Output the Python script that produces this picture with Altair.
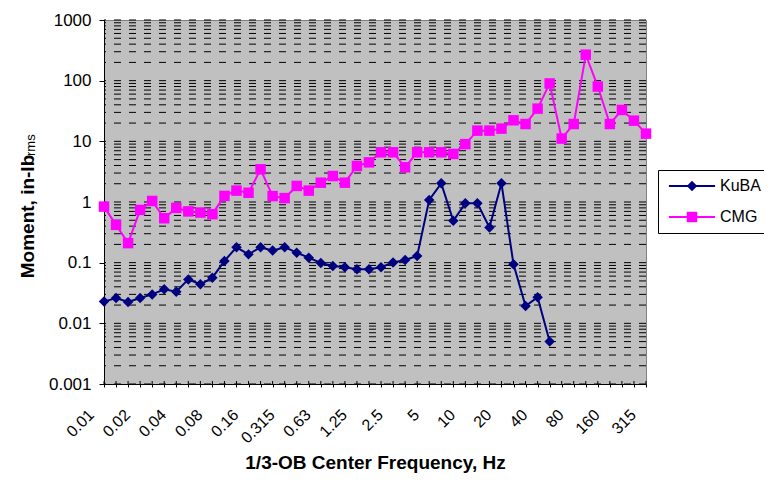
import altair as alt
import pandas as pd

freqs = ["0.01", "0.0125", "0.016", "0.02", "0.025", "0.0315", "0.04", "0.05", "0.063", "0.08",
         "0.1", "0.125", "0.16", "0.2", "0.25", "0.315", "0.4", "0.5", "0.63", "0.8",
         "1", "1.25", "1.6", "2", "2.5", "3.15", "4", "5", "6.3", "8",
         "10", "12.5", "16", "20", "25", "31.5", "40", "50", "63", "80",
         "100", "125", "160", "200", "250", "315"]
labeled = freqs[::3]

kuba = [0.0228, 0.0262, 0.0225, 0.0262, 0.030, 0.0364, 0.0333, 0.053, 0.044, 0.0566,
        0.107, 0.179, 0.137, 0.18, 0.158, 0.18, 0.146, 0.121, 0.099, 0.088,
        0.084, 0.078, 0.078, 0.084, 0.101, 0.111, 0.129, 1.08, 2.03, 0.49,
        0.95, 0.95, 0.38, 2.03, 0.094, 0.0193, 0.0269, 0.0050]
cmg = [0.84, 0.42, 0.21, 0.74, 1.04, 0.54, 0.80, 0.70, 0.67, 0.63,
       1.26, 1.54, 1.42, 3.46, 1.25, 1.16, 1.84, 1.54, 2.08, 2.68,
       2.08, 3.92, 4.5, 6.6, 6.6, 3.73, 6.6, 6.6, 6.6, 6.2,
       9.0, 15.0, 15.0, 16.2, 22.2, 19.3, 34.6, 90, 11.1, 19.3,
       268, 80, 19.3, 32.9, 21.9, 13.4]

series_names = ["KuBA", "CMG"]
series_colors = ["#000080", "#FF00FF"]
decades = [0.001, 0.01, 0.1, 1, 10, 100, 1000]
grid_vals = [m * 10.0 ** k for k in range(-3, 3) for m in range(1, 10)] + [1000]

rows = []
for f, v in zip(freqs, kuba):
    rows.append({"freq": f, "series": "KuBA", "series_b": "KuBA", "value": v})
for f, v in zip(freqs, cmg):
    rows.append({"freq": f, "series": "CMG", "series_b": "CMG", "value": v})
df = pd.DataFrame(rows)

W, H = 542, 364

lab_js = "[" + ",".join("'" + s + "'" for s in labeled) + "]"
xscale = alt.Scale(type="point", padding=0, domain=freqs)
xaxis = alt.Axis(
    labelExpr=f"indexof({lab_js}, datum.label) >= 0 ? datum.label : ''",
    labelAngle=315, labelAlign="right", labelBaseline="middle",
    labelOffset=-13, labelPadding=25, labelFontSize=16, labelColor="black",
    tickSize=3, tickColor="black", domainColor="black", grid=False,
    title="1/3-OB Center Frequency, Hz", titleFontSize=19, titleFontWeight="bold",
    titleColor="black", titleBaseline="alphabetic", titleY=84,
)
yscale = alt.Scale(type="log", domain=[0.001, 1000], nice=False)
yaxis = alt.Axis(
    values=decades, format="~g", grid=False, tickSize=5, tickColor="black",
    domainColor="black", labelFontSize=17, labelPadding=8, labelColor="black",
    title="Moment, in-lb", titleFontSize=19, titleFontWeight="bold", titleColor="black",
    titleAngle=270, titleX=-71, titleY=196, titleAlign="center", titleBaseline="alphabetic",
)

x_enc = alt.X("freq:O", scale=xscale, axis=xaxis)
y_enc = alt.Y("value:Q", scale=yscale, axis=yaxis)

grid = alt.Chart(pd.DataFrame({"value": grid_vals})).mark_rule(
    color="black", strokeWidth=1, strokeDash=[7, 8]
).encode(y=y_enc)

ticks_in = alt.Chart(pd.DataFrame({"freq": freqs})).mark_rule(
    color="black", strokeWidth=1
).encode(x=x_enc, y=alt.value(H - 3), y2=alt.value(H))

legA = alt.Legend(
    title=None, orient="none", legendX=554, legendY=150,
    symbolType="M-4.4,0H4.4", symbolSize=110, symbolStrokeWidth=2,
    labelFontSize=16, labelColor="black", padding=8, rowPadding=15,
    strokeColor="black", fillColor="white", symbolOffset=18, labelOffset=20,
)
legB = alt.Legend(
    title=None, orient="none", legendX=554, legendY=150,
    symbolSize=110, symbolStrokeWidth=0, labelFontSize=16, labelOpacity=0,
    padding=8, rowPadding=15, symbolOffset=18, labelOffset=20,
)

lines = alt.Chart(df).mark_line(strokeWidth=2).encode(
    x=x_enc, y=y_enc,
    color=alt.Color("series:N", sort=series_names, scale=alt.Scale(range=series_colors), legend=legA),
    detail="series:N",
)

points = alt.Chart(df).mark_point(filled=True, size=110, opacity=1).encode(
    x=x_enc, y=y_enc,
    fill=alt.Fill("series_b:N", scale=alt.Scale(domain=series_names, range=series_colors), legend=legB),
    shape=alt.Shape("series_b:N", scale=alt.Scale(domain=series_names, range=["diamond", "square"]), legend=legB),
)

sub = alt.Chart(pd.DataFrame({"t": ["rms"]})).mark_text(
    angle=270, align="left", baseline="alphabetic", fontSize=13, color="black"
).encode(text="t:N", x=alt.value(-69), y=alt.value(136))

chart = alt.layer(grid, ticks_in, lines, points, sub).properties(
    width=W, height=H,
    autosize=alt.AutoSizeParams(type="none"),
    padding={"left": 96, "top": 12, "right": 118, "bottom": 90},
).configure(font="Liberation Sans").configure_view(
    fill="#C0C0C0", stroke="#808080", strokeWidth=1
)

chart.save("out.html", embed_options={"renderer": "svg", "actions": False})
